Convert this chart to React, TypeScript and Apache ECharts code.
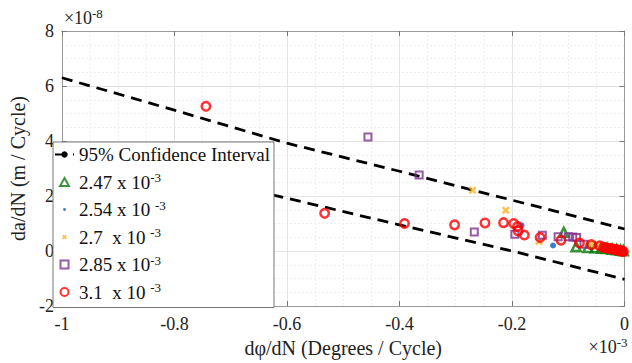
import React, { useEffect, useRef } from "react";
import * as echarts from "echarts";

const FONT = "Liberation Serif";

// x in units of 1e-3 deg/cycle, y in units of 1e-8 m/cycle
const ciX = [-1, -0.8, -0.6, -0.4, -0.2, 0];
const ciUpper = [6.3, 5.12, 3.92, 2.9, 1.85, 0.8];
const ciLower = [3.8, 2.88, 1.92, 0.95, 0.0, -1.03];

const greenX = [-0.108, -0.086, -0.065, -0.052, -0.041, -0.031, -0.022, -0.014, -0.007, -0.002];
const greenY = [0.68, 0.16, 0.13, 0.12, 0.1, 0.09, 0.07, 0.05, 0.03, 0.01];

const blueX = [-0.183, -0.127, -0.028, -0.01];
const blueY = [0.93, 0.2, 0.08, 0.04];

const orangeX = [-0.27, -0.211, -0.152, -0.06, -0.043, -0.02];
const orangeY = [2.21, 1.48, 0.35, 0.25, 0.19, 0.1];

const purpleX = [-0.456, -0.365, -0.267, -0.195, -0.146, -0.118, -0.1, -0.092, -0.085, -0.072, -0.035];
const purpleY = [4.15, 2.76, 0.69, 0.61, 0.57, 0.52, 0.52, 0.51, 0.49, 0.25, 0.12];

const redX = [-0.744, -0.533, -0.391, -0.302, -0.248, -0.215, -0.197, -0.19, -0.189, -0.178, -0.15, -0.113, -0.08, -0.059, -0.044, -0.037, -0.033, -0.029, -0.025, -0.021, -0.018, -0.015, -0.012, -0.009, -0.006, -0.004, -0.002];
const redY = [5.26, 1.37, 1.0, 0.95, 1.02, 1.03, 1.0, 0.89, 0.73, 0.58, 0.49, 0.39, 0.29, 0.23, 0.19, 0.13, 0.12, 0.1, 0.09, 0.07, 0.06, 0.05, 0.03, 0.02, 0.0, -0.01, -0.02];

const CI_NAME = "95% Confidence Interval";
const names = ["2.47 x 10^-3", "2.54 x 10 ^-3", "2.7\u00A0 x 10 ^-3", "2.85 x 10^-3", "3.1\u00A0 x 10 ^-3"];
const yExponent = "-8";
const xExponent = "-3";

const zip = (xs: number[], ys: number[]) => xs.map((x, i) => [x, ys[i]]);

const X_SYMBOL = "path://M0,2.2L2.2,0L5,2.8L7.8,0L10,2.2L7.2,5L10,7.8L7.8,10L5,7.2L2.2,10L0,7.8L2.8,5Z";
const TRI_ICON = "path://M5,0L10,9L0,9Z";
const DOT_ICON = "path://M0,0L10,10L0,0ZM3.2,5A1.8,1.8,0,1,1,6.8,5A1.8,1.8,0,1,1,3.2,5Z";
const X_ICON = "path://M0,0L10,10L0,0ZM2,3.5L3.5,2L5,3.5L6.5,2L8,3.5L6.5,5L8,6.5L6.5,8L5,6.5L3.5,8L2,6.5L3.5,5Z";
const SQ_ICON = "path://M0.5,0.5L9.5,0.5L9.5,9.5L0.5,9.5Z";
const CIRC_ICON = "path://M0,5A5,5,0,1,1,10,5A5,5,0,1,1,0,5Z";

const supRich = {
  n: { fontFamily: FONT, fontSize: 18, lineHeight: 22, color: "#222" },
  sup: { fontFamily: FONT, fontSize: 13, lineHeight: 10, verticalAlign: "top", color: "#222" },
};

export default function App() {
  const ref = useRef<HTMLDivElement>(null);
  useEffect(() => {
    if (!ref.current) return;
    const chart = echarts.init(ref.current, undefined, { renderer: "svg" });
    const ciLine = {
      color: "#000",
      width: 2.8,
      type: [11, 7] as any,
    };
    const scatterBase = { type: "scatter", xAxisIndex: 0, yAxisIndex: 0 };
    const frame = { show: true, onZero: false, lineStyle: { color: "#9a9a9a", width: 1 } };
    const ticks = { show: true, inside: true, length: 5, lineStyle: { color: "#777" } };
    const hidden = {
      axisLine: { show: false, onZero: false },
      axisTick: { show: false },
      axisLabel: { show: false },
      splitLine: { show: false },
    };
    chart.setOption({
      animation: false,
      backgroundColor: "#fff",
      textStyle: { fontFamily: FONT },
      grid: { left: 53, right: 4, top: 31, bottom: 56 },
      xAxis: [
        {
          type: "value",
          min: -1,
          max: 0,
          interval: 0.2,
          position: "bottom",
          axisLine: frame,
          axisTick: ticks,
          axisLabel: { fontFamily: FONT, fontSize: 18, color: "#222", margin: 9 },
          splitLine: { show: true, lineStyle: { color: "#e3e3e3", width: 1 } },
          minorTick: { show: false, splitNumber: 4 },
          minorSplitLine: { show: true, lineStyle: { color: "#efefef", width: 1, type: [2, 2] } },
          name: "d\u03C6/dN (Degrees / Cycle)",
          nameLocation: "middle",
          nameGap: 32,
          nameTextStyle: { fontFamily: FONT, fontSize: 20, color: "#222" },
        },
        {
          type: "value",
          min: -1,
          max: 0,
          interval: 0.2,
          position: "top",
          axisLine: frame,
          axisTick: ticks,
          axisLabel: { show: false },
          splitLine: { show: false },
        },
        {
          type: "value",
          min: -1,
          max: 0,
          interval: 0.2,
          position: "bottom",
          ...hidden,
          name: `{n|\u00D710}{sup|${xExponent}}`,
          nameLocation: "end",
          nameGap: 3,
          nameTextStyle: {
            fontFamily: FONT,
            fontSize: 18,
            color: "#222",
            align: "right",
            verticalAlign: "top",
            padding: [30, 0, 0, 0],
            rich: supRich,
          },
        },
      ],
      yAxis: [
        {
          type: "value",
          min: -2,
          max: 8,
          interval: 2,
          position: "left",
          axisLine: frame,
          axisTick: ticks,
          axisLabel: { fontFamily: FONT, fontSize: 18, color: "#222", margin: 8 },
          splitLine: { show: true, lineStyle: { color: "#e3e3e3", width: 1 } },
          minorTick: { show: false, splitNumber: 4 },
          minorSplitLine: { show: true, lineStyle: { color: "#efefef", width: 1, type: [2, 2] } },
          name: "da/dN (m / Cycle)",
          nameLocation: "middle",
          nameGap: 27,
          nameRotate: 90,
          nameTextStyle: { fontFamily: FONT, fontSize: 20, color: "#222" },
        },
        {
          type: "value",
          min: -2,
          max: 8,
          interval: 2,
          position: "right",
          axisLine: frame,
          axisTick: ticks,
          axisLabel: { show: false },
          splitLine: { show: false },
        },
        {
          type: "value",
          min: -2,
          max: 8,
          interval: 2,
          position: "left",
          offset: 0,
          ...hidden,
          name: `{n|\u00D710}{sup|${yExponent}}`,
          nameLocation: "end",
          nameGap: 2,
          nameTextStyle: {
            fontFamily: FONT,
            fontSize: 18,
            color: "#222",
            align: "left",
            verticalAlign: "bottom",
            padding: [0, 0, 0, 2],
            rich: supRich,
          },
        },
      ],
      legend: {
        orient: "vertical",
        left: 53,
        top: 142,
        padding: [3, 4, 6, 1],
        itemGap: 7,
        itemWidth: 19,
        itemHeight: 8,
        backgroundColor: "#fff",
        borderColor: "#777",
        borderWidth: 1,
        borderRadius: 0,
        data: [
          { name: CI_NAME },
          { name: names[0], icon: TRI_ICON },
          { name: names[1], icon: DOT_ICON },
          { name: names[2], icon: X_ICON },
          { name: names[3], icon: SQ_ICON },
          { name: names[4], icon: CIRC_ICON },
        ],
        formatter: (name: string) => {
          const m = name.match(/^(.*)\^(-?\d+)$/);
          if (!m) return `{n|${name}}`;
          return `{n|${m[1]}}{sup|${m[2]}}`;
        },
        textStyle: {
          fontFamily: FONT,
          color: "#111",
          rich: {
            n: { fontFamily: FONT, fontSize: 19, lineHeight: 22, color: "#111" },
            sup: { fontFamily: FONT, fontSize: 13, lineHeight: 10, verticalAlign: "top", color: "#111" },
          },
        },
      },
      series: [
        {
          name: CI_NAME,
          type: "line",
          data: zip(ciX, ciUpper),
          symbol: "none",
          lineStyle: ciLine,
          itemStyle: { color: "#000" },
          z: 1,
        },
        {
          name: CI_NAME,
          type: "line",
          data: zip(ciX, ciLower),
          symbol: "none",
          lineStyle: ciLine,
          itemStyle: { color: "#000" },
          z: 1,
        },
        {
          ...scatterBase,
          name: names[0],
          data: zip(greenX, greenY),
          symbol: "triangle",
          symbolSize: 9,
          itemStyle: { color: "rgba(0,0,0,0)", borderColor: "#0b7a0b", borderWidth: 2.6 },
          z: 2,
        },
        {
          ...scatterBase,
          name: names[1],
          data: zip(blueX, blueY),
          symbol: "circle",
          symbolSize: 6,
          itemStyle: { color: "#0a5fc0", borderWidth: 0 },
          z: 3,
        },
        {
          ...scatterBase,
          name: names[2],
          data: zip(orangeX, orangeY),
          symbol: X_SYMBOL,
          symbolSize: 8,
          itemStyle: { color: "#ffb01f", borderWidth: 0 },
          z: 4,
        },
        {
          ...scatterBase,
          name: names[3],
          data: zip(purpleX, purpleY),
          symbol: "rect",
          symbolSize: 7,
          itemStyle: { color: "rgba(0,0,0,0)", borderColor: "#7e2f8e", borderWidth: 2 },
          z: 5,
        },
        {
          ...scatterBase,
          name: names[4],
          data: zip(redX, redY),
          symbol: "circle",
          symbolSize: 8.5,
          itemStyle: { color: "rgba(0,0,0,0)", borderColor: "#ff0000", borderWidth: 2.5 },
          z: 6,
        },
      ],
    });
    return () => chart.dispose();
  }, []);
  return (
    <div
      ref={ref}
      style={{ position: "fixed", left: 0, top: 0, width: 632, height: 363, background: "#fff" }}
    />
  );
}
